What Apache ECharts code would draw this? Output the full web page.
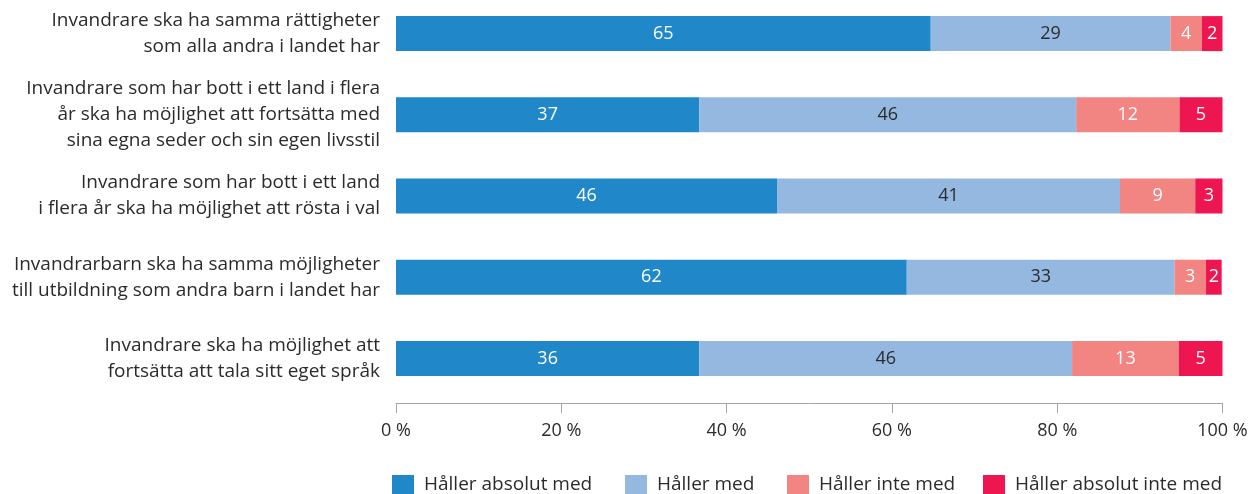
<!DOCTYPE html>
<html>
<head>
<meta charset="utf-8">
<script src="https://cdn.jsdelivr.net/npm/echarts@6/dist/echarts.min.js"></script>
<style>
	html, body { margin: 0; padding: 0; background: #fff; }
	#chart { width: 1250px; height: 494px; }
</style>
</head>
<body>
<div id="chart"></div>
<script>
/* kategorier */
var categories = [
	'Invandrare ska ha samma rättigheter\nsom alla andra i landet har',
	'Invandrare som har bott i ett land i flera\når ska ha möjlighet att fortsätta med\nsina egna seder och sin egen livsstil',
	'Invandrare som har bott i ett land\ni flera år ska ha möjlighet att rösta i val',
	'Invandrarbarn ska ha samma möjligheter\ntill utbildning som andra barn i landet har',
	'Invandrare ska ha möjlighet att\nfortsätta att tala sitt eget språk'
];
var seriesNames = ['Håller absolut med', 'Håller med', 'Håller inte med', 'Håller absolut inte med'];

/* stapellängder (%) */
var absolutMed = [64.7, 36.7, 46.1, 61.8, 36.7];
var med = [29.0, 45.6, 41.5, 32.4, 45.1];
var inteMed = [3.8, 12.5, 9.1, 3.8, 12.9];
var absolutInteMed = [2.5, 5.3, 3.4, 1.9, 5.3];

/* etiketter som de står i bilden */
var absolutMedLbl = [65, 37, 46, 62, 36];
var medLbl = [29, 46, 41, 33, 46];
var inteMedLbl = [4, 12, 9, 3, 13];
var absolutInteMedLbl = [2, 5, 3, 2, 5];

var xTicks = [0, 20, 40, 60, 80, 100];

var colors = ['#2088c9', '#95b8e1', '#f28482', '#ee1650'];
var textColors = ['#ffffff', '#2b2b2b', '#ffffff', '#ffffff'];
var legendTextW = [177, 106, 140, 217];
var font = 'Open Sans, Liberation Sans, Arial, sans-serif';

var chart = echarts.init(document.getElementById('chart'));

function mkSeries(i, data, lbl) {
	return {
		name: seriesNames[i],
		type: 'bar',
		stack: 'total',
		barWidth: 35,
		itemStyle: { color: colors[i] },
		label: {
			show: true,
			position: 'inside',
			color: textColors[i],
			fontFamily: font,
			fontSize: 18,
			formatter: function(p) { return lbl[p.dataIndex]; }
		},
		emphasis: { disabled: true },
		data: data
	};
}

var option = {
	animation: false,
	grid: {
		left: 396,
		right: 27.5,
		top: -7,
		height: 406,
		outerBoundsMode: 'none',
		containLabel: false
	},
	legend: {
		left: 392,
		top: 475,
		padding: 0,
		itemWidth: 22,
		itemHeight: 19,
		itemGap: 24,
		icon: 'rect',
		textStyle: { fontFamily: font, fontSize: 19, lineHeight: 19, color: '#2b2b2b', padding: [0, 0, 0, 5] },
		data: seriesNames.map(function(n, i) {
			return { name: n, textStyle: { width: legendTextW[i] } };
		})
	},
	xAxis: {
		type: 'value',
		min: xTicks[0],
		max: xTicks[xTicks.length - 1],
		interval: 20,
		offset: 4,
		axisLine: { show: true, lineStyle: { color: '#a6a6a6', width: 1 } },
		axisTick: { show: true, length: 10, lineStyle: { color: '#a6a6a6' } },
		splitLine: { show: false },
		axisLabel: {
			margin: 19,
			fontFamily: font,
			fontSize: 18,
			color: '#2b2b2b',
			formatter: '{value} %'
		}
	},
	yAxis: {
		type: 'category',
		inverse: true,
		data: categories,
		axisLine: { show: false },
		axisTick: { show: false },
		axisLabel: {
			margin: 16,
			fontFamily: font,
			fontSize: 19,
			lineHeight: 26,
			color: '#2b2b2b',
			align: 'right'
		}
	},
	series: [
		mkSeries(0, absolutMed, absolutMedLbl),
		mkSeries(1, med, medLbl),
		mkSeries(2, inteMed, inteMedLbl),
		mkSeries(3, absolutInteMed, absolutInteMedLbl)
	]
};
chart.setOption(option);
</script>
</body>
</html>
